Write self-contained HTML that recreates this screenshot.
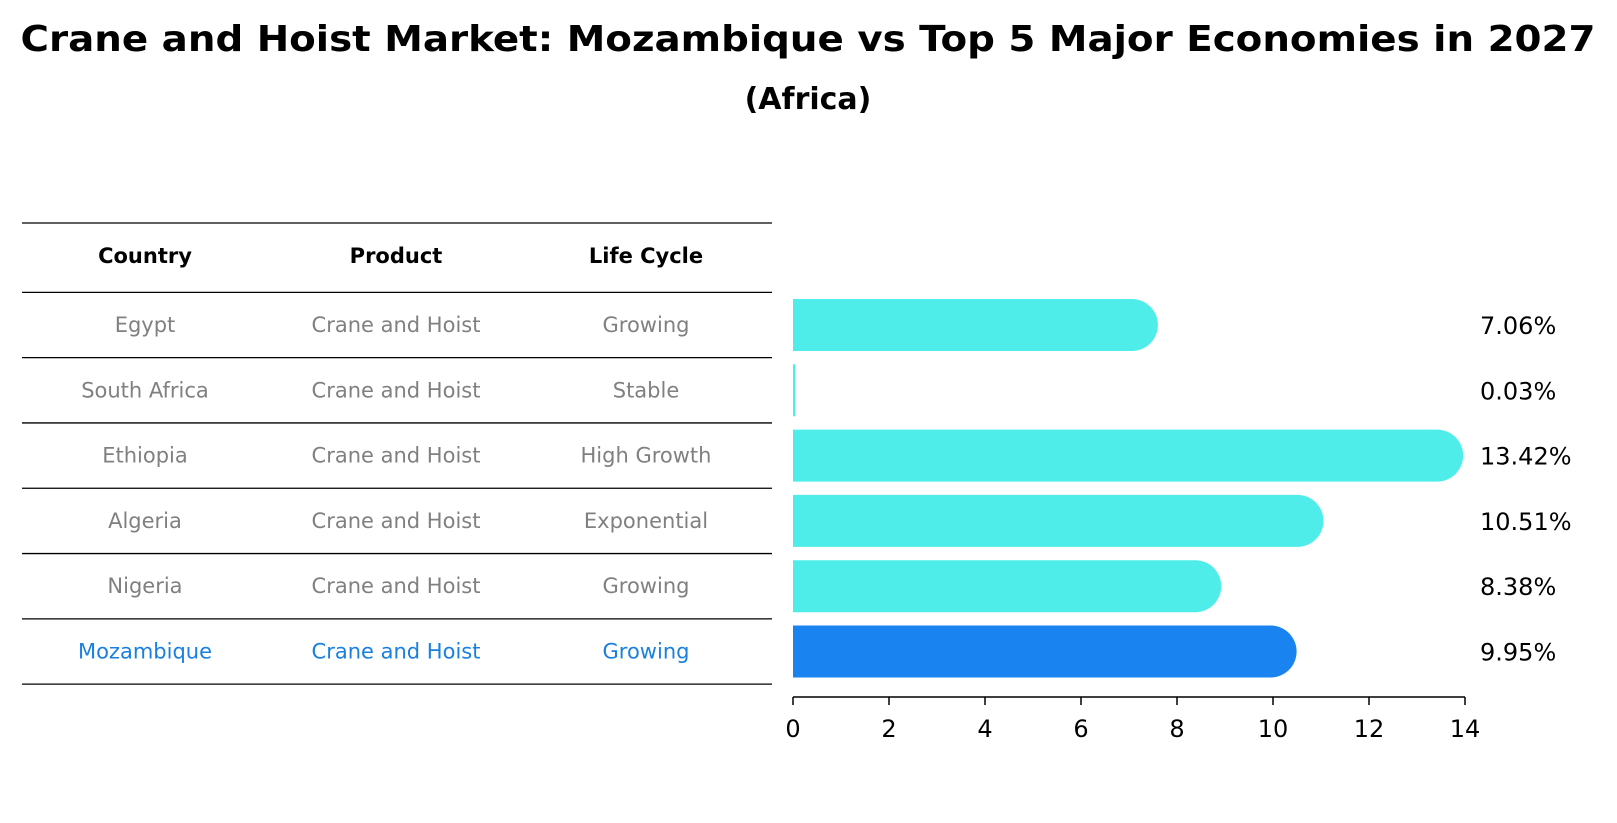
<!DOCTYPE html>
<html><head><meta charset="utf-8"><style>
html,body{margin:0;padding:0;background:#fff;}
svg{display:block;font-family:"DejaVu Sans","Liberation Sans",sans-serif;}
</style></head><body>
<svg id="chart" width="1617" height="823" viewBox="0 0 1617 823" xmlns="http://www.w3.org/2000/svg">
<text x="808" y="51" text-anchor="middle" font-size="36" font-weight="bold" textLength="1575" lengthAdjust="spacingAndGlyphs">Crane and Hoist Market: Mozambique vs Top 5 Major Economies in 2027</text>
<text x="808" y="109" text-anchor="middle" font-size="30" font-weight="bold">(Africa)</text>
<g id="table"></g>
<g id="bars"></g>
</svg>
<script>
const countries = ["Egypt","South Africa","Ethiopia","Algeria","Nigeria","Mozambique"];
const products = ["Crane and Hoist","Crane and Hoist","Crane and Hoist","Crane and Hoist","Crane and Hoist","Crane and Hoist"];
const lifeCycles = ["Growing","Stable","High Growth","Exponential","Growing","Growing"];
const values = [7.06,0.03,13.42,10.51,8.38,9.95];
const xTicks = [0,2,4,6,8,10,12,14];
const headers = ["Country","Product","Life Cycle"];
const highlight = "Mozambique";

const NS = "http://www.w3.org/2000/svg";
function mk(tag, attrs, parent){const e=document.createElementNS(NS,tag);for(const k in attrs)e.setAttribute(k,attrs[k]);parent.appendChild(e);return e;}
const x0=793, pxPerUnit=48, firstCenter=325, rowStep=65.3, barH=52;
function xs(v){return x0+v*pxPerUnit;}
function ys(i){return firstCenter+i*rowStep;}

const table=document.getElementById('table');
const colX=[145,396,646];
const lineX1=22, lineX2=772;
// header
let hl=mk('line',{x1:lineX1,x2:lineX2,y1:223,y2:223,stroke:'#000','stroke-width':1.3},table);


headers.forEach((h,j)=>{
  const t=mk('text',{x:colX[j],y:263,'text-anchor':'middle','font-size':21,'font-weight':'bold',fill:'#000'},table);
  t.textContent=h;
  
  
});
countries.forEach((c,i)=>{
  const yl=ys(i)-rowStep/2;
  const l=mk('line',{x1:lineX1,x2:lineX2,y1:yl,y2:yl,stroke:'#000','stroke-width':1.3},table);
  
  
  const col=c===highlight?'#1a80e0':'#808080';
  [c,products[i],lifeCycles[i]].forEach((txt,j)=>{
    const t=mk('text',{x:colX[j],y:ys(i)+7,'text-anchor':'middle','font-size':21,fill:col},table);
    t.textContent=txt;
    
    
  });
});
const lastY=ys(countries.length-1)+rowStep/2;
const bl=mk('line',{x1:lineX1,x2:lineX2,y1:lastY,y2:lastY,stroke:'#000','stroke-width':1.3},table);



const bars=document.getElementById('bars');
const r=barH/2;
values.forEach((v,i)=>{
  const cy=ys(i), top=cy-r, xe=xs(v);
  const col=countries[i]===highlight?'#1984f0':'#4eedea';
  let d;
  if(v>0.2) d=`M${x0},${top} H${xe} A${r},${r} 0 0 1 ${xe},${top+barH} H${x0} Z`;
  else d=`M${x0},${top} H${xe+1} V${top+barH} H${x0} Z`;
  const p=mk('path',{d:d,fill:col},bars);
  
  
  const t=mk('text',{x:1480,y:cy+9,'font-size':24,fill:'#000'},bars);
  t.textContent=v.toFixed(2)+'%';
  
  
});
const axY=697;
const ax=mk('line',{x1:xs(xTicks[0]),x2:xs(xTicks[xTicks.length-1]),y1:axY,y2:axY,stroke:'#000','stroke-width':1.5},bars);


xTicks.forEach(tv=>{
  const tk=mk('line',{x1:xs(tv),x2:xs(tv),y1:axY,y2:axY+8,stroke:'#000','stroke-width':1.5},bars);
  
  
  const t=mk('text',{x:xs(tv),y:737,'text-anchor':'middle','font-size':24,fill:'#000'},bars);
  t.textContent=tv;
  
  
});
</script>
</body></html>
